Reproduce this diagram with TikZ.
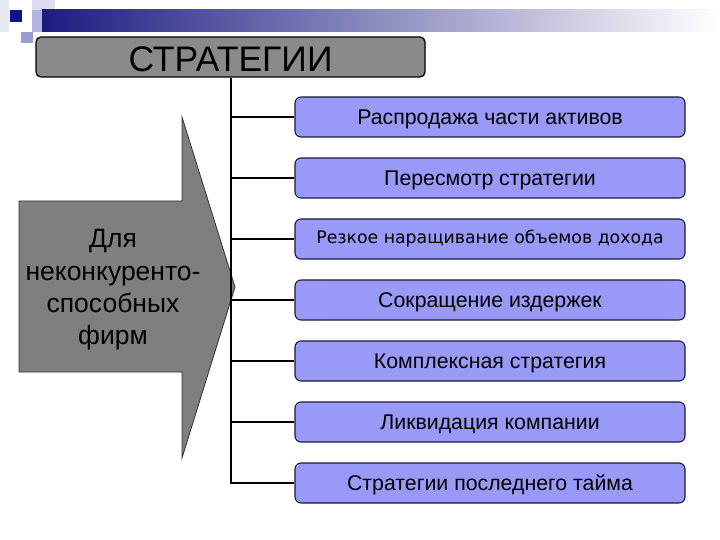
\documentclass[tikz,border=0pt]{standalone}
\usepackage{fontspec}
\setmainfont{Liberation Sans}
\newfontfamily\verdfont{DejaVu Sans}
\newcommand{\lowr}[1]{\raisebox{-2pt}[\height][\depth]{#1}}
\definecolor{navybar}{HTML}{1C1C80}
\definecolor{midbar}{HTML}{8C8CC0}
\definecolor{boxblue}{HTML}{9999F8}
\definecolor{boxline}{HTML}{1A1A3A}
\definecolor{titlegray}{HTML}{8A8A8A}
\definecolor{arrowgray}{HTML}{7F7F7F}
\definecolor{decoA}{HTML}{E6E6F4}
\definecolor{decoB}{HTML}{DCDCF0}
\definecolor{decoC}{HTML}{B4B4E0}
\definecolor{decoD}{HTML}{10108A}
\definecolor{decoE}{HTML}{9C9CD0}
\tikzset{
  stratbox/.style={draw=boxline, line width=1.1pt, fill=boxblue, rounded corners=6pt,
    minimum width=390pt, minimum height=40pt, inner sep=0pt,
    font=\fontsize{21.3}{24}\selectfont, text=black},
  titlebox/.style={draw=black, line width=1.3pt, fill=titlegray, rounded corners=5pt,
    minimum width=389pt, minimum height=40pt, inner sep=0pt,
    font=\fontsize{35.5}{40}\selectfont, text=black},
  conn/.style={draw=black, line width=2pt},
}
\begin{document}
\begin{tikzpicture}[x=1pt,y=-1pt]
\useasboundingbox (0,0) rectangle (720,540);
\fill[white] (0,0) rectangle (720,540);
% decorative template elements
\fill[decoA] (0,0) rectangle (9,32);
\fill[decoB] (32,0) rectangle (55,10);
\shade[left color=navybar, middle color=midbar, right color=white] (42,10) rectangle (720,32);
\fill[decoC] (32,10) rectangle (42,32);
\fill[decoD] (10,10) rectangle (22,22);
\fill[decoE] (21,32) rectangle (33,43);
% title
\node[titlebox] (title) at (230.5,57) {\lowr{СТРАТЕГИИ}};
% arrow
\draw[draw=black!80, line width=0.8pt, fill=arrowgray]
  (19,201) -- (182,201) -- (182,117) -- (235,287) -- (182,458) -- (182,372) -- (19,372) -- cycle;
\node[align=center, font=\fontsize{26.5}{32.3}\selectfont, text=black] (firms) at (113,290)
  {Для\\неконкуренто-\\способных\\фирм};
% boxes
\node[stratbox] (b1) at (490,117) {\lowr{Распродажа части активов}};
\node[stratbox] (b2) at (490,178) {\lowr{Пересмотр стратегии}};
\node[stratbox, font=\verdfont\fontsize{17.3}{20}\selectfont] (b3) at (490,239) {Резкое наращивание объемов дохода};
\node[stratbox] (b4) at (490,300) {\lowr{Сокращение издержек}};
\node[stratbox] (b5) at (490,361) {\lowr{Комплексная стратегия}};
\node[stratbox] (b6) at (490,422) {\lowr{Ликвидация компании}};
\node[stratbox] (b7) at (490,483) {\lowr{Стратегии последнего тайма}};
% connectors
\draw[conn] (title.south) -- (title.south |- b7.west) -- (b7.west);
\foreach \i in {1,...,6} {
  \draw[conn] (title.south |- b\i.west) -- (b\i.west);
}
\end{tikzpicture}
\end{document}
